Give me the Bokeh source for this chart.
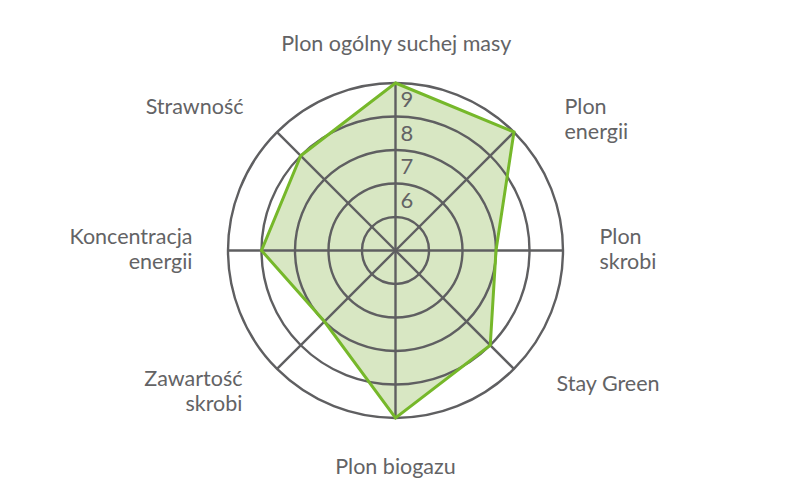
import math
from bokeh.plotting import figure
from bokeh.models import Range1d, ColumnDataSource
from bokeh.core.properties import value
from bokeh.embed import file_html
from bokeh.resources import INLINE

# ---- data ----
categories = ["Plon ogólny suchej masy", "Plon energii", "Plon skrobi", "Stay Green",
              "Plon biogazu", "Zawartość skrobi", "Koncentracja energii", "Strawność"]
category_lines = [["Plon ogólny suchej masy"], ["Plon", "energii"], ["Plon", "skrobi"], ["Stay Green"],
                  ["Plon biogazu"], ["Zawartość", "skrobi"], ["Koncentracja", "energii"], ["Strawność"]]
scores = [9, 9, 7, 8, 9, 7, 8, 8]
ring_values = [5, 6, 7, 8, 9]
tick_labels = ["6", "7", "8", "9"]
scale_min = 4

# ---- layout ----
UNIT = 33.5            # px per score unit
CX, CY = 395, 250      # centre in page pixels
OFF = 0
W, H = 775, 484
FONT = "Lato"
GREY = "#5f5f61"
TEXT = "#636365"
GREEN = "#76b82a"
FILL = "#d8e7c3"

def rad(v):
    return (v - scale_min) * UNIT

n = len(categories)
angles = [math.pi / 2 - 2 * math.pi * i / n for i in range(n)]

p = figure(width=W, height=H, output_backend="svg", toolbar_location=None,
           x_range=Range1d(OFF - CX, OFF + W - CX), y_range=Range1d(CY - OFF - H, CY - OFF),
           min_border=0)
p.axis.visible = False
p.grid.visible = False
p.outline_line_color = None
p.background_fill_color = "white"

px = [rad(v) * math.cos(a) for v, a in zip(scores, angles)]
py = [rad(v) * math.sin(a) for v, a in zip(scores, angles)]

# filled area
p.patch(px, py, fill_color=FILL, line_color=None)

# rings
outer = rad(ring_values[-1])
p.circle(x=[0] * len(ring_values), y=[0] * len(ring_values),
         radius=[rad(v) for v in ring_values], fill_color=None,
         line_color=GREY, line_width=2.4)
# spokes
p.segment(x0=[0] * n, y0=[0] * n,
          x1=[outer * math.cos(a) for a in angles],
          y1=[outer * math.sin(a) for a in angles],
          line_color=GREY, line_width=2.4)

# outline
p.patch(px, py, fill_color=None, line_color=GREEN, line_width=3, line_join="miter")

# tick labels along top spoke
tick_vals = [int(t) - 0.5 for t in tick_labels]
p.text(x=[5] * len(tick_labels), y=[rad(v) for v in tick_vals], text=tick_labels,
       text_font=value(FONT), text_font_size="22px", text_color=TEXT,
       text_align="left", text_baseline="middle")

# category labels: anchor (page px) and alignment
anchors = [(396, 42, "center"), (564, 105, "left"), (599, 235, "left"), (556, 382, "left"),
           (395, 465, "center"), (242, 377, "right"), (192, 235, "right"), (243, 105, "right")]
LINE_H = 25
tx, ty, tt, ta = [], [], [], []
for lines, (ax, ay, al) in zip(category_lines, anchors):
    for k, line in enumerate(lines):
        tx.append(ax - CX)
        ty.append(CY - (ay + k * LINE_H))
        tt.append(line)
        ta.append(al)
src = ColumnDataSource(dict(x=tx, y=ty, text=tt, align=ta))
p.text(x="x", y="y", text="text", text_align="align", source=src,
       text_font=value(FONT), text_font_size="21.5px", text_color=TEXT,
       text_baseline="middle")

open("out.html", "w").write(file_html(p, INLINE))
